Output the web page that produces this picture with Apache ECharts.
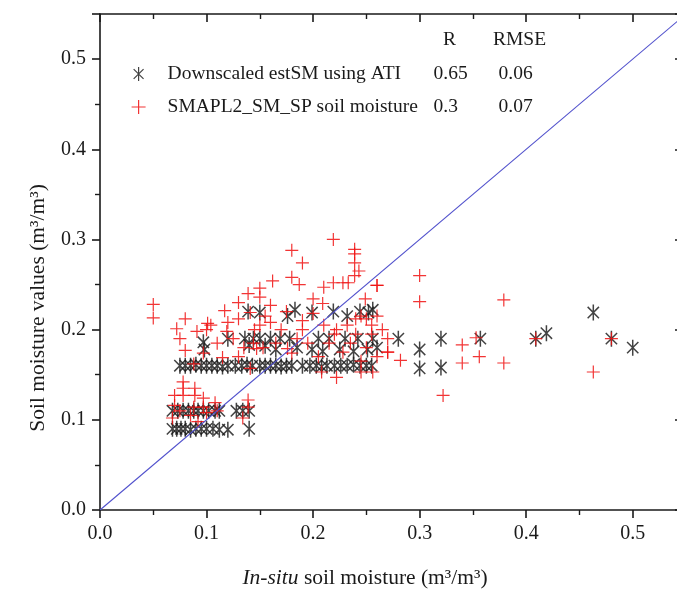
<!DOCTYPE html>
<html><head><meta charset="utf-8">
<script src="https://cdn.jsdelivr.net/npm/echarts/dist/echarts.min.js"></script>
<style>html,body{margin:0;padding:0;background:#fff}#c{width:677px;height:591px}</style>
</head><body><div id="c"></div>
<script>
const seriesNames = ['Downscaled estSM using ATI', 'SMAPL2_SM_SP soil moisture'];
const statR = ['0.65', '0.3'];
const statRMSE = ['0.06', '0.07'];
const statHeaders = ['R', 'RMSE'];
const xTitle = 'In-situ soil moisture (m³/m³)';
const yTitle = 'Soil moisture values (m³/m³)';

const estSM = [
[0.068,0.09],[0.072,0.09],[0.076,0.09],[0.080,0.09],[0.085,0.089],[0.090,0.09],[0.095,0.09],[0.100,0.09],[0.106,0.09],[0.112,0.089],[0.120,0.089],[0.140,0.09],
[0.068,0.11],[0.073,0.11],[0.078,0.11],[0.083,0.11],[0.088,0.11],[0.092,0.11],[0.097,0.11],[0.102,0.11],[0.108,0.11],[0.112,0.11],[0.128,0.11],[0.134,0.11],[0.140,0.11],
[0.075,0.16],[0.080,0.16],[0.085,0.16],[0.090,0.161],[0.095,0.16],[0.100,0.16],[0.105,0.16],[0.110,0.16],[0.115,0.159],[0.120,0.16],[0.127,0.16],[0.133,0.16],[0.138,0.161],[0.143,0.16],[0.150,0.16],[0.155,0.16],[0.160,0.16],[0.165,0.16],[0.170,0.159],[0.175,0.16],[0.180,0.16],[0.190,0.16],[0.197,0.16],[0.203,0.16],[0.208,0.159],[0.213,0.16],[0.220,0.16],[0.226,0.16],[0.232,0.16],[0.238,0.161],[0.244,0.16],[0.250,0.16],[0.255,0.16],
[0.097,0.186],[0.098,0.178],[0.120,0.19],[0.136,0.19],[0.140,0.183],[0.144,0.19],[0.150,0.19],[0.155,0.182],[0.160,0.19],[0.165,0.178],[0.169,0.19],[0.178,0.19],[0.185,0.18],[0.199,0.178],[0.205,0.19],[0.209,0.176],[0.215,0.19],[0.225,0.178],[0.230,0.19],[0.238,0.176],[0.242,0.19],[0.251,0.178],[0.256,0.19],[0.260,0.18],
[0.139,0.22],[0.150,0.219],[0.176,0.215],[0.183,0.222],[0.199,0.219],[0.219,0.22],[0.232,0.215],[0.244,0.22],[0.252,0.219],[0.256,0.222],
[0.280,0.190],[0.300,0.178],[0.300,0.157],[0.320,0.190],[0.320,0.158],[0.357,0.190],[0.409,0.190],[0.419,0.196],[0.463,0.219],[0.480,0.190],[0.500,0.180]
];

const smapSM = [
[0.050,0.228],[0.050,0.213],[0.072,0.201],[0.080,0.212],[0.091,0.198],[0.101,0.207],[0.104,0.205],[0.117,0.221],[0.120,0.208],[0.119,0.198],[0.130,0.212],[0.130,0.230],[0.139,0.240],[0.141,0.219],[0.150,0.246],[0.150,0.236],[0.150,0.205],[0.160,0.208],[0.160,0.227],[0.162,0.254],[0.180,0.288],[0.190,0.274],[0.180,0.258],[0.187,0.250],[0.200,0.234],[0.209,0.229],[0.210,0.247],[0.219,0.300],[0.219,0.252],[0.228,0.252],[0.233,0.252],[0.239,0.289],[0.239,0.284],[0.239,0.274],[0.239,0.260],[0.249,0.234],[0.260,0.249],[0.240,0.212],[0.250,0.212],[0.222,0.200],[0.232,0.205],[0.245,0.215],[0.255,0.205],[0.260,0.215],
[0.080,0.177],[0.097,0.174],[0.115,0.169],[0.144,0.185],[0.147,0.179],[0.153,0.180],[0.176,0.179],[0.180,0.174],[0.270,0.175],[0.208,0.153],[0.222,0.147],[0.245,0.153],[0.256,0.153],[0.141,0.157],[0.130,0.170],[0.135,0.180],[0.165,0.185],[0.170,0.200],[0.185,0.190],[0.190,0.200],[0.195,0.185],[0.205,0.170],[0.215,0.185],[0.220,0.195],[0.228,0.175],[0.235,0.185],[0.240,0.195],[0.245,0.165],[0.250,0.180],[0.255,0.195],[0.260,0.170],[0.265,0.200],[0.175,0.220],[0.190,0.210],[0.200,0.218],[0.210,0.205],[0.145,0.200],[0.155,0.215],[0.125,0.190],[0.110,0.185],[0.088,0.162],[0.075,0.190],[0.100,0.200],
[0.078,0.142],[0.078,0.135],[0.078,0.127],[0.070,0.127],[0.089,0.135],[0.089,0.127],[0.097,0.124],[0.070,0.116],[0.088,0.114],[0.097,0.114],[0.108,0.119],[0.110,0.110],[0.139,0.122],[0.139,0.114],[0.134,0.102],[0.068,0.102],[0.085,0.105],[0.075,0.110],[0.100,0.108],[0.092,0.098],
[0.300,0.260],[0.300,0.231],[0.379,0.233],[0.340,0.183],[0.340,0.163],[0.356,0.170],[0.379,0.163],[0.322,0.127],[0.463,0.153],[0.353,0.191],[0.409,0.190],[0.480,0.190],[0.270,0.190],[0.270,0.175],[0.282,0.166],[0.260,0.249],[0.243,0.265]
];

const oneToOne = [[0, 0], [0.55, 0.55]];

const FONT = '"Liberation Serif", "Times New Roman", serif';
const TXT = '#1a1a1a';
const STAR = 'path://M0,-10L0,10M-7.07,-7.07L7.07,7.07M-7.07,7.07L7.07,-7.07';
const PLUS = 'path://M0,-10L0,10M-10,0L10,0';

const lbl = v => (Math.abs(v * 10 - Math.round(v * 10)) < 1e-6 ? v.toFixed(1) : '');

function axis(pos, inside, showLabel, tickLen, showLine) {
  return {
    type: 'value', min: 0, max: 0.55, interval: 0.1, position: pos,
    axisLine: { show: showLine, onZero: false, lineStyle: { color: TXT, width: 1.6 } },
    axisTick: { show: true, inside: inside, length: tickLen, lineStyle: { color: TXT, width: 1.6 } },
    minorTick: { show: true, splitNumber: 2, length: tickLen - 3, lineStyle: { color: TXT, width: 1.4 } },
    splitLine: { show: false },
    axisLabel: { show: showLabel, formatter: lbl, fontFamily: FONT, fontSize: 20, color: TXT, margin: 14, showMaxLabel: false }
  };
}

const chart = echarts.init(document.getElementById('c'), null, { renderer: 'canvas' });
const statsFor = i => '{n|' + seriesNames[i] + '}{r|' + statR[i] + '}{e|' + statRMSE[i] + '}';
chart.setOption({
  animation: false,
  backgroundColor: '#fff',
  grid: { left: 100, top: 14, width: 586, height: 496, outerBoundsMode: 'none', containLabel: false },
  xAxis: [axis('bottom', false, true, 8, true), axis('top', true, false, 8, true)],
  yAxis: [axis('left', false, true, 8, true), axis('right', true, false, 11, true)],
  legend: {
    data: [
      { name: seriesNames[0], icon: STAR },
      { name: seriesNames[1], icon: PLUS }
    ],
    orient: 'vertical', left: 126, top: 59, itemGap: 13,
    itemWidth: 14, itemHeight: 14, symbolKeepAspect: true,
    itemStyle: { borderWidth: 1.2 },
    formatter: name => statsFor(seriesNames.indexOf(name)),
    textStyle: {
      fontFamily: FONT, fontSize: 19.5, color: TXT,
      rich: {
        n: { fontFamily: FONT, fontSize: 19.5, color: TXT, width: 266, padding: [0, 0, 0, 17] },
        r: { fontFamily: FONT, fontSize: 19.5, color: TXT, width: 65 },
        e: { fontFamily: FONT, fontSize: 19.5, color: TXT }
      }
    }
  },
  graphic: [
    { type: 'text', left: 443, top: 30, style: { text: statHeaders[0], font: '19.5px ' + FONT, fill: TXT } },
    { type: 'text', left: 493, top: 30, style: { text: statHeaders[1], font: '19.5px ' + FONT, fill: TXT } },
    { type: 'text', x: 365, y: 578, style: { text: '{it|In-situ} soil moisture (m³/m³)', align: 'center', verticalAlign: 'middle', font: '21.5px ' + FONT, fill: TXT,
        rich: { it: { fontStyle: 'italic', fontFamily: FONT, fontSize: 21.5, fill: TXT } } } },
    { type: 'text', x: 38, y: 308, rotation: Math.PI / 2, style: { text: yTitle, align: 'center', verticalAlign: 'middle', font: '21.5px ' + FONT, fill: TXT } }
  ],
  series: [
    { name: seriesNames[0], type: 'scatter', data: estSM, symbol: STAR, symbolSize: 16, symbolKeepAspect: true,
      itemStyle: { color: '#1a1a1a', borderColor: '#1a1a1a', borderWidth: 1.5, opacity: 0.82 } },
    { name: seriesNames[1], type: 'scatter', data: smapSM, symbol: PLUS, symbolSize: 13,
      itemStyle: { color: '#f01010', borderColor: '#f01010', borderWidth: 1.2, opacity: 0.85 } },
    { name: '1:1', type: 'line', data: oneToOne, symbol: 'none', silent: true,
      lineStyle: { color: '#5050cc', width: 1.1 }, z: 5 }
  ]
});
</script></body></html>
